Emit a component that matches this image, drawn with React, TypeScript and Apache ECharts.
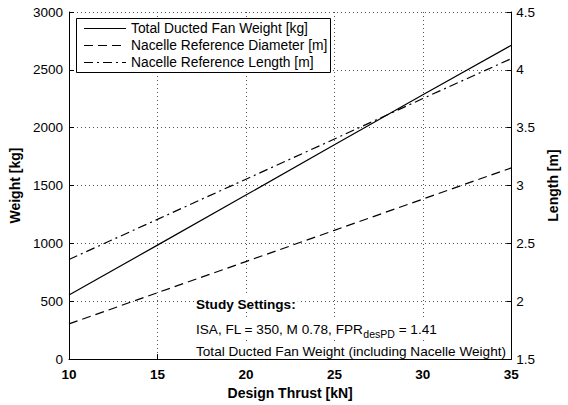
import React, { useEffect, useRef } from "react";
import * as echarts from "echarts";

// Design thrust sweep [kN]
const thrust = [10, 15, 20, 25, 30, 35];
// Total ducted fan weight [kg]
const fanWeight = [554, 985, 1418, 1852, 2285, 2713];
// Nacelle reference diameter [m]
const nacelleDiameter = [1.804, 2.074, 2.343, 2.613, 2.883, 3.153];
// Nacelle reference length [m]
const nacelleLength = [2.361, 2.708, 3.055, 3.402, 3.752, 4.097];

const legendNames = [
  "Total Ducted Fan Weight [kg]",
  "Nacelle Reference Diameter [m]",
  "Nacelle Reference Length [m]",
];

const FONT = "'Liberation Sans', Arial, Helvetica, sans-serif";
const DASH = [9, 5];
const DASH_DOT = [9, 4, 2, 4];

const pairs = (xs: number[], ys: number[]) => xs.map((x, i) => [x, ys[i]]);

export default function App() {
  const ref = useRef<HTMLDivElement>(null);

  useEffect(() => {
    document.body.style.margin = "0";
    const chart = echarts.init(ref.current!, null, { renderer: "svg" });

    const grid = { left: 69, right: 49, top: 12, bottom: 41 };
    const splitLine = {
      show: true,
      lineStyle: { color: "#555", type: [1, 3], width: 1 },
    };
    const axisLine = { show: true, lineStyle: { color: "#000", width: 1 } };
    const axisTick = { show: true, inside: true, length: 5, lineStyle: { color: "#000" } };
    const plain = (v: number) => String(v);

    const legendX = 76;
    const legendY = 18;
    const rowH = 17;
    const styles = [null, DASH, DASH_DOT];

    const legendGraphics: any[] = [
      {
        type: "rect",
        shape: { x: legendX + 0.5, y: legendY + 0.5, width: 254, height: 54 },
        style: { fill: "#fff", stroke: "#000", lineWidth: 1 },
        z: 100,
      },
    ];
    legendNames.forEach((name, i) => {
      const y = legendY + 10.5 + i * rowH;
      legendGraphics.push({
        type: "line",
        shape: { x1: legendX + 8, y1: y, x2: legendX + 50, y2: y },
        style: {
          stroke: "#000",
          lineWidth: 1,
          lineDash: styles[i] || undefined,
        },
        z: 101,
      });
      legendGraphics.push({
        type: "text",
        x: legendX + 55,
        y,
        style: {
          text: name,
          fontFamily: FONT,
          fontSize: 13.8,
          fill: "#000",
          verticalAlign: "middle",
        },
        z: 101,
      });
    });

    const noteX = 196;
    const noteSize = 13.6;
    const notes: any[] = [
      {
        type: "text",
        x: noteX,
        y: 304,
        style: {
          text: "Study Settings:",
          fontFamily: FONT,
          fontSize: noteSize,
          fontWeight: "bold",
          fill: "#000",
          verticalAlign: "middle",
          backgroundColor: "#fff",
          padding: [1, 2, 1, 0],
        },
        z: 100,
      },
      {
        type: "text",
        x: noteX,
        y: 329,
        style: {
          text: "{n|ISA, FL = 350, M 0.78, FPR}{s|desPD}{n| = 1.41}",
          fontFamily: FONT,
          fill: "#000",
          verticalAlign: "middle",
          backgroundColor: "#fff",
          padding: [1, 2, 1, 0],
          rich: {
            n: { fontFamily: FONT, fontSize: noteSize, fill: "#000" },
            s: { fontFamily: FONT, fontSize: 10.5, fill: "#000", padding: [9, 0, 0, 0] },
          },
        },
        z: 100,
      },
      {
        type: "text",
        x: noteX,
        y: 351,
        style: {
          text: "Total Ducted Fan Weight (including Nacelle Weight)",
          fontFamily: FONT,
          fontSize: noteSize,
          fill: "#000",
          verticalAlign: "middle",
          backgroundColor: "#fff",
          padding: [1, 2, 1, 0],
        },
        z: 100,
      },
    ];

    const labelFont = { fontFamily: FONT, fontSize: 14, fontWeight: "bold", color: "#000" };

    chart.setOption({
      animation: false,
      backgroundColor: "#fff",
      textStyle: { fontFamily: FONT },
      grid,
      xAxis: {
        type: "value",
        min: 10,
        max: 35,
        interval: 5,
        name: "Design Thrust [kN]",
        nameLocation: "middle",
        nameGap: 23,
        nameTextStyle: labelFont,
        axisLine,
        axisTick,
        axisLabel: { fontFamily: FONT, fontSize: 13.5, fontWeight: "bold", color: "#000", margin: 8, formatter: plain },
        splitLine,
      },
      yAxis: [
        {
          type: "value",
          min: 0,
          max: 3000,
          interval: 500,
          name: "Weight [kg]",
          nameLocation: "middle",
          nameGap: 42,
          nameRotate: 90,
          nameTextStyle: labelFont,
          axisLine,
          axisTick,
          axisLabel: { fontFamily: FONT, fontSize: 13.5, color: "#000", margin: 6, formatter: plain },
          splitLine,
        },
        {
          type: "value",
          position: "right",
          min: 1.5,
          max: 4.5,
          interval: 0.5,
          name: "Length [m]",
          nameLocation: "middle",
          nameGap: 30,
          nameRotate: 90,
          nameTextStyle: labelFont,
          axisLine,
          axisTick,
          axisLabel: { fontFamily: FONT, fontSize: 13.5, color: "#000", margin: 5, formatter: plain },
          splitLine: { show: false },
        },
      ],
      series: [
        {
          name: legendNames[0],
          type: "line",
          yAxisIndex: 0,
          data: pairs(thrust, fanWeight),
          showSymbol: false,
          lineStyle: { color: "#000", width: 1.2, type: "solid" },
          z: 5,
        },
        {
          name: legendNames[1],
          type: "line",
          yAxisIndex: 1,
          data: pairs(thrust, nacelleDiameter),
          showSymbol: false,
          lineStyle: { color: "#000", width: 1.2, type: DASH },
          z: 5,
        },
        {
          name: legendNames[2],
          type: "line",
          yAxisIndex: 1,
          data: pairs(thrust, nacelleLength),
          showSymbol: false,
          lineStyle: { color: "#000", width: 1.2, type: DASH_DOT },
          z: 5,
        },
      ],
      graphic: [...legendGraphics, ...notes],
    });

    return () => chart.dispose();
  }, []);

  return (
    <div
      ref={ref}
      style={{ position: "absolute", left: 0, top: 0, width: 568, height: 405 }}
    />
  );
}
